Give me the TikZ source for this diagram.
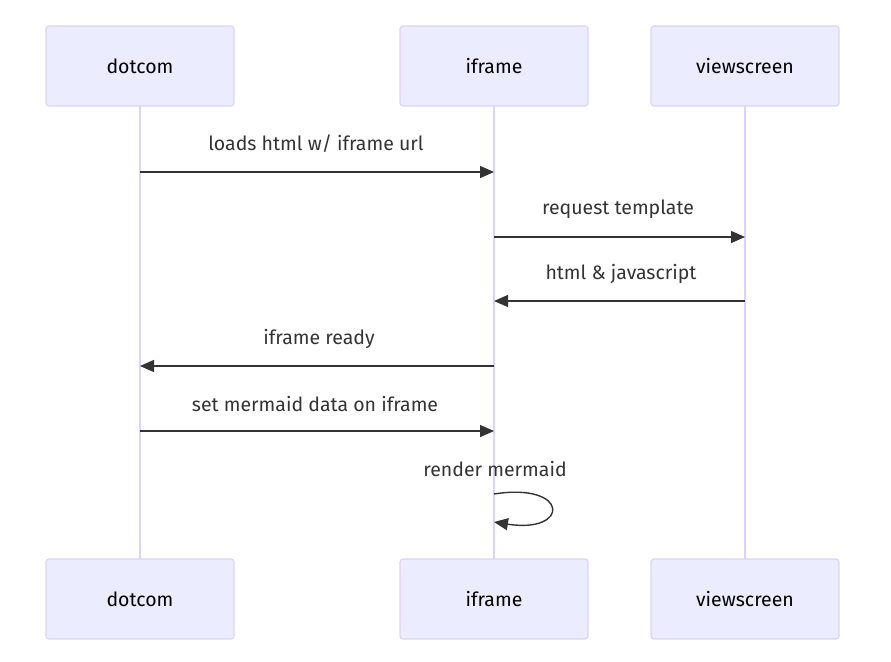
\documentclass[tikz,border=0pt]{standalone}
\usepackage{fontspec}
\setmainfont{Fira Sans}
\usetikzlibrary{arrows.meta}
\definecolor{actfill}{HTML}{ECECFF}
\definecolor{actline}{HTML}{DCD3F7}
\definecolor{msg}{HTML}{333333}
\begin{document}
\begin{tikzpicture}[x=1pt,y=-1pt,
  actor/.style={draw=actline, fill=actfill, line width=1.2pt, rounded corners=3pt,
    minimum width=188pt, minimum height=80pt, inner sep=0pt, font=\fontsize{19.5}{22}\selectfont, text=black},
  life/.style={draw=actline, line width=1.5pt},
  msgline/.style={draw=msg, line width=1.4pt, -{Triangle[length=14pt,width=12pt]}},
  lbl/.style={font=\fontsize{19.5}{22}\selectfont, text=msg, inner sep=0pt}]
\useasboundingbox (0,0) rectangle (891,661);
% lifelines
\coordinate (l1t) at (140,106); \coordinate (l1b) at (140,559);
\coordinate (l2t) at (494,106); \coordinate (l2b) at (494,559);
\coordinate (l3t) at (745,106); \coordinate (l3b) at (745,559);
\draw[life] (l1t) -- (l1b);
\draw[life] (l2t) -- (l2b);
\draw[life] (l3t) -- (l3b);
% actors
\node[actor] (dt) at (140,66) {dotcom};
\node[actor] (it) at (494,66) {iframe};
\node[actor] (vt) at (745,66) {viewscreen};
\node[actor] (db) at (140,599) {dotcom};
\node[actor] (ib) at (494,599) {iframe};
\node[actor] (vb) at (745,599) {viewscreen};
% message anchor points
\coordinate (a1) at (140,172); \coordinate (b1) at (494,172);
\coordinate (a2) at (494,237); \coordinate (b2) at (745,237);
\coordinate (a3) at (745,301); \coordinate (b3) at (494,301);
\coordinate (a4) at (494,366); \coordinate (b4) at (140,366);
\coordinate (a5) at (140,431); \coordinate (b5) at (494,431);
\coordinate (a6) at (494,494); \coordinate (b6) at (494,522);
\draw[msgline] (a1) -- (b1);
\draw[msgline] (a2) -- (b2);
\draw[msgline] (a3) -- (b3);
\draw[msgline] (a4) -- (b4);
\draw[msgline] (a5) -- (b5);
\draw[msgline] (a6) .. controls (570,482) and (570,534) .. (b6);
% labels
\node[lbl] (t1) at (316,144) {loads html w/ iframe url};
\node[lbl] (t2) at (618,209) {request template};
\node[lbl] (t3) at (621,274) {html \& javascript};
\node[lbl] (t4) at (319,339) {iframe ready};
\node[lbl] (t5) at (315,404) {set mermaid data on iframe};
\node[lbl] (t6) at (495,469) {render mermaid};
\end{tikzpicture}
\end{document}
